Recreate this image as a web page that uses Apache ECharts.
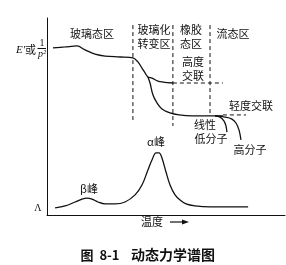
<!DOCTYPE html>
<html><head><meta charset="utf-8">
<script src="https://cdn.jsdelivr.net/npm/echarts@6/dist/echarts.min.js"></script>
<style>html,body{margin:0;padding:0;background:#fff}#c{width:286px;height:265px}</style>
</head><body><div id="c"></div>
<script>
// x: temperature (arbitrary 0-100), y: modulus / loss (arbitrary 0-100)
const highCrosslink = [[2.5,84.8],[7.6,85.3],[12.6,85.8],[16.0,83.8],[20.2,81.7],[24.4,80.7],[30.7,80.2],[36.1,79.7],[38.2,77.7],[39.9,74.6],[41.2,72.1],[42.4,70.1],[44.1,69.5],[46.6,68.0],[48.7,67.5],[52.9,67.0]];
const highMolecular = [[42.4,70.1],[43.3,67.0],[44.5,61.0],[46.2,56.9],[48.3,53.8],[51.7,51.8],[55.5,50.8],[60.9,50.3],[67.2,50.3],[70.6,50.3],[74.8,49.7],[77.7,48.7],[79.4,46.7],[80.7,43.1],[81.5,38.1]];
const lowMolecular = [[70.6,50.3],[72.7,49.7],[74.4,47.7],[75.2,45.2],[75.6,42.1]];
const lightCrosslink = [[70.6,50.3],[73.9,50.3]];
const lightCrosslinkDash = [[73.9,50.8],[83.6,50.8]];
const highCrosslinkDash = [[52.9,67.0],[73.9,67.0]];
const lossCurve = [[3.4,3.6],[7.6,4.6],[11.8,6.6],[14.7,8.1],[16.8,8.6],[18.9,8.1],[21.4,6.6],[24.4,5.6],[28.6,5.6],[32.8,6.6],[37.0,10.2],[39.9,15.2],[42.4,22.8],[44.1,27.9],[45.8,31.5],[47.1,31.5],[48.3,28.9],[50.0,21.8],[51.7,15.2],[53.8,10.2],[55.9,7.6],[58.4,5.6],[62.2,4.6],[68.5,4.1],[84.5,4.1]];
const regionBounds = [[36.1,96.4,48.2],[52.9,96.4,45.2],[68.5,96.4,50.8]];

const font = '"Noto Sans CJK SC"';
const black = '#111';
function txt(x,y,s,size,extra){return Object.assign({type:'text',x:x,y:y,style:{text:s,font:(size||11)+'px '+font,fill:black,align:'center',verticalAlign:'middle'}},extra||{});}

const series = [];
function line(data, dashed, smooth){
  series.push({type:'line',data:data,symbol:'none',smooth:smooth===undefined?0.35:smooth,silent:true,
    lineStyle:{color:black,width:dashed?1:1.3,type:dashed?[4,3]:'solid'}});
}
line(highCrosslink); line(highMolecular); line(lowMolecular); line(lightCrosslink,false,false);
line(lightCrosslinkDash,true,false); line(highCrosslinkDash,true,false); line(lossCurve);
regionBounds.forEach(b=>line([[b[0],b[1]],[b[0],b[2]]],true,false));

const chart = echarts.init(document.getElementById('c'),null,{renderer:'canvas'});
chart.setOption({
  animation:false,
  grid:{left:47,right:1,top:18,bottom:50},
  xAxis:{type:'value',min:0,max:100,axisLine:{lineStyle:{color:black,width:1}},axisTick:{show:false},axisLabel:{show:false},splitLine:{show:false}},
  yAxis:{type:'value',min:0,max:100,axisLine:{show:true,lineStyle:{color:black,width:1}},axisTick:{show:false},axisLabel:{show:false},splitLine:{show:false}},
  series:series,
  graphic:[
    txt(92,34,'玻璃态区'),
    txt(154,30,'玻璃化'),txt(154,44,'转变区'),
    txt(191,30,'橡胶'),txt(191,44,'态区'),
    txt(233,34,'流态区'),
    txt(193,62,'高度'),txt(193,76,'交联'),
    txt(251,106,'轻度交联'),
    txt(205,125,'线性'),txt(211,139,'低分子'),
    txt(250,150,'高分子'),
    txt(156,142,'α峰'),
    txt(89,189,'β峰'),
    txt(152,222,'温度'),
    {type:'line',shape:{x1:170,y1:222,x2:184,y2:222},style:{stroke:black,lineWidth:1.2}},
    {type:'polygon',shape:{points:[[189,222],[182,219.5],[182,224.5]]},style:{fill:black}},
    {type:'text',x:36,y:50,style:{text:"{e|E'}{c|或}",align:'right',verticalAlign:'middle',
      rich:{e:{font:'italic 11px "Liberation Serif"',fill:black},c:{font:'11px '+font,fill:black}}}},
    {type:'text',x:42,y:43,style:{text:'1',font:'10px "Liberation Serif"',fill:black,align:'center',verticalAlign:'middle'}},
    {type:'line',shape:{x1:37.5,y1:48.5,x2:46,y2:48.5},style:{stroke:black,lineWidth:1}},
    {type:'text',x:42,y:54,style:{text:'p²',font:'italic 10px "Liberation Serif"',fill:black,align:'center',verticalAlign:'middle'}},
    {type:'text',x:38,y:208,style:{text:'Λ',font:'10px "Liberation Serif"',fill:black,align:'center',verticalAlign:'middle'}},
    txt(100,255,'图 8-1',13,{style:{text:'图  8-1',font:'bold 13px '+font,fill:black,align:'center',verticalAlign:'middle'}}),
    txt(173,255,'动态力学谱图',14,{style:{text:'动态力学谱图',font:'bold 14px '+font,fill:black,align:'center',verticalAlign:'middle'}})
  ]
});
</script></body></html>
